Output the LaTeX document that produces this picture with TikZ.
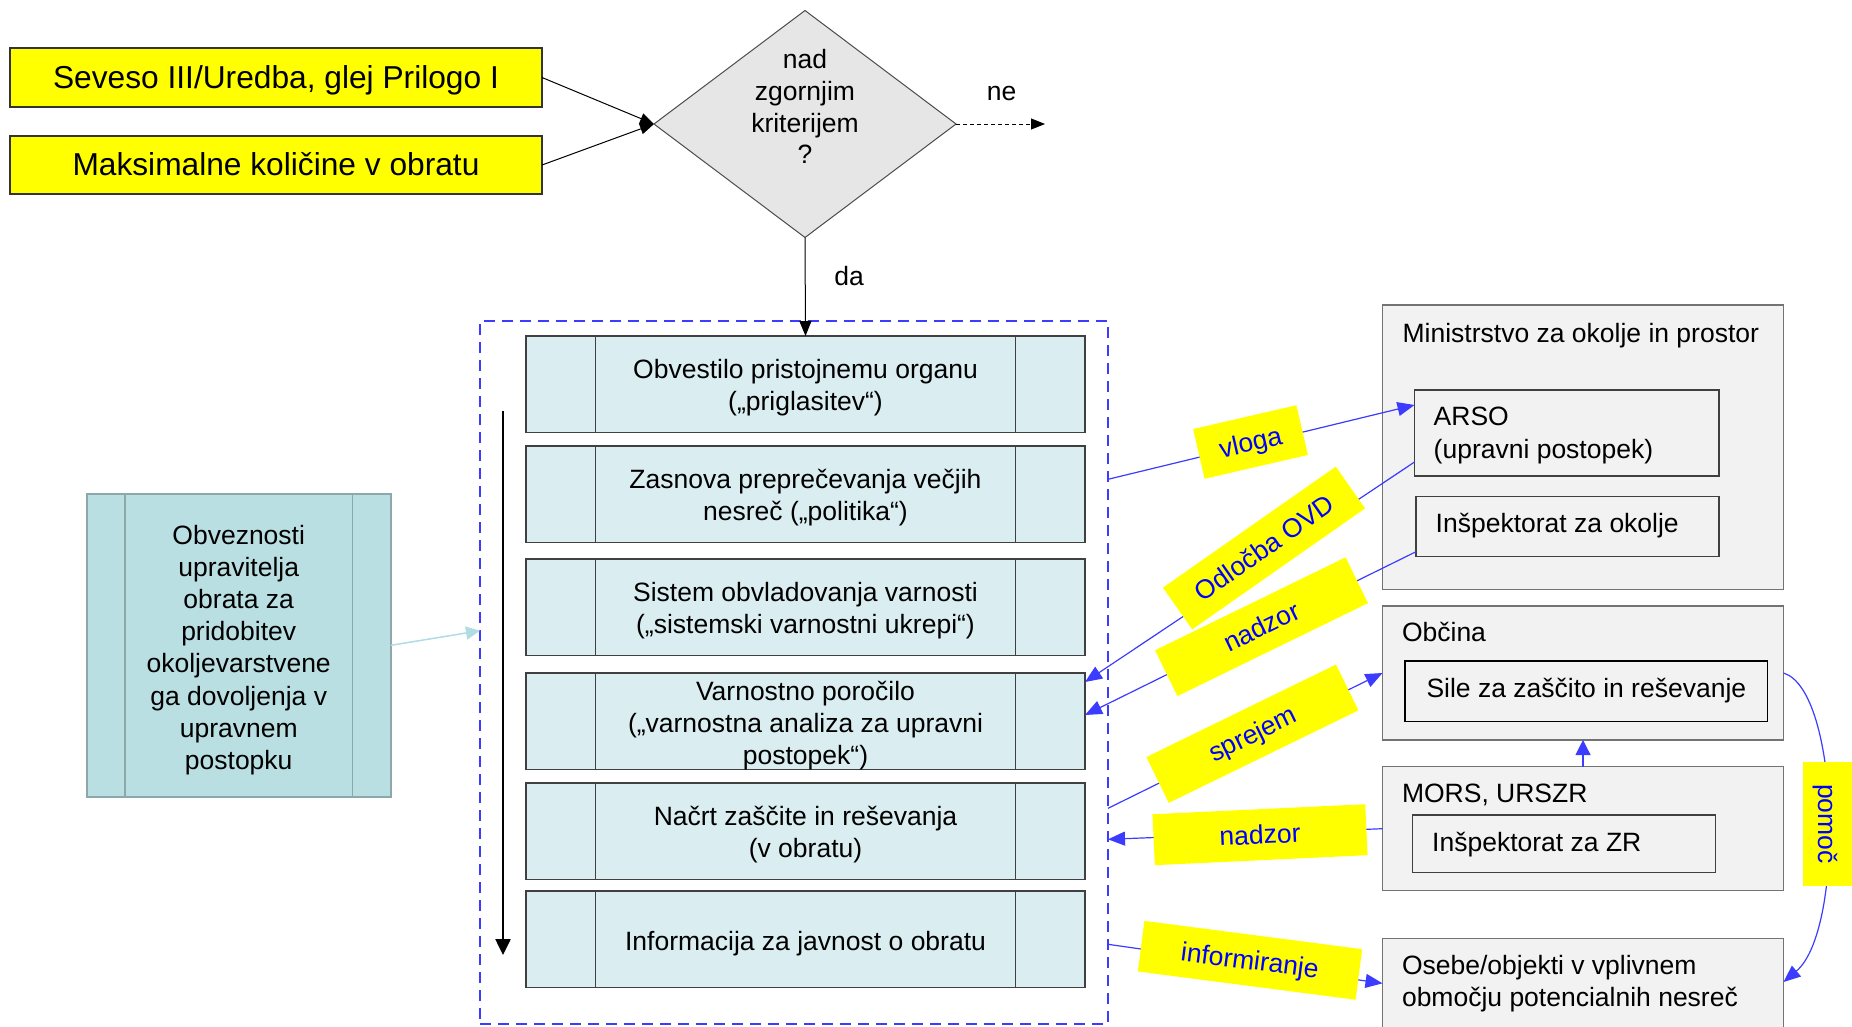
\documentclass[tikz,border=0pt]{standalone}
\usepackage{fontspec}
\setmainfont{Liberation Sans}
\usetikzlibrary{shapes.geometric,arrows.meta}
\definecolor{ylw}{RGB}{255,255,0}
\definecolor{diafill}{RGB}{230,230,230}
\definecolor{stepfill}{RGB}{218,238,241}
\definecolor{leftfill}{RGB}{185,223,227}
\definecolor{leftdraw}{RGB}{140,168,168}
\definecolor{greyfill}{RGB}{242,242,242}
\definecolor{greydraw}{RGB}{115,115,115}
\definecolor{lineblue}{RGB}{60,60,255}
\definecolor{txtblue}{RGB}{0,0,255}
\definecolor{cyanline}{RGB}{176,220,226}
\newcommand{\lnstrut}{\rule[-0.212em]{0pt}{1.117em}}
\begin{document}
\begin{tikzpicture}[x=1pt,y=-1pt,
  every node/.style={font=\fontsize{26.5}{31.8}\selectfont, inner sep=0pt, outer sep=0pt,
    execute at begin node=\lnstrut, execute at end node=\lnstrut},
  ybox/.style={draw=black!80, fill=ylw, line width=1.2pt, anchor=north west,
    font=\fontsize{31.7}{38}\selectfont},
  sidelines/.style={path picture={
    \draw[line width=1.2pt, draw=#1]
      ([xshift=\sideoff]path picture bounding box.north west) -- ([xshift=\sideoff]path picture bounding box.south west)
      ([xshift=-\sideoff]path picture bounding box.north east) -- ([xshift=-\sideoff]path picture bounding box.south east);}},
  stepbox/.style={draw=black!75, fill=stepfill, line width=1.2pt, minimum width=559pt,
    minimum height=96.5pt, anchor=north west, sidelines=black!75},
  steptext/.style={align=center},
  greybox/.style={draw=greydraw, fill=greyfill, line width=1.5pt, anchor=north west},
  innerbox/.style={draw=black!75, fill=greyfill, line width=1.3pt, anchor=north west},
  blk/.style={draw=black, line width=1pt, -{Triangle[length=14pt,width=11pt]}},
  bl/.style={draw=lineblue, line width=1.2pt, -{Triangle[length=17pt,width=14pt]}},
  lab/.style={fill=ylw, text=txtblue, minimum height=51pt, inner sep=0pt},
  txt/.style={anchor=west, align=left}
]
\def\sideoff{69.5pt}
\useasboundingbox (0,0) rectangle (1852,1026);
\clip (0,0) rectangle (1852,1026);
\fill[white] (0,0) rectangle (1852,1026);

% top inputs and decision
\node[ybox, minimum width=532pt, minimum height=59pt] (sev) at (10,48) {Seveso III/Uredba, glej Prilogo I};
\node[ybox, minimum width=532pt, minimum height=58pt] (max) at (10,136) {Maksimalne količine v obratu};
\node[draw=black!70, fill=diafill, diamond, line width=1pt, minimum width=302pt, minimum height=227pt] (dec) at (805,124) {};
\node[align=center] (dect) at (805,109.5) {nad\\zgornjim\\kriterijem\\?};
\draw[blk] (sev.east) -- (dec.west);
\draw[blk] (max.east) -- (dec.west);
\coordinate (neend) at (1045,124);
\draw[blk, dash pattern=on 4pt off 3pt] (dec.east) -- (neend);
\node (ne) at (1001.7,91.7) {ne};
\node (da) at (849,276) {da};

% dashed frame and steps
\node[draw=lineblue, line width=2.8pt, dash pattern=on 11pt off 7pt, minimum width=628pt,
  minimum height=703pt, anchor=north west] (frame) at (480,321) {};
\node[stepbox] (s1) at (526,336) {};
\node[stepbox] (s2) at (526,446) {};
\node[stepbox] (s3) at (526,559) {};
\node[stepbox] (s4) at (526,673) {};
\node[stepbox] (s5) at (526,783) {};
\node[stepbox] (s6) at (526,891) {};
\node[steptext] (s1t) at ([yshift=-3.5pt]s1.center) {Obvestilo pristojnemu organu\\(„priglasitev“)};
\node[steptext] (s2t) at ([yshift=-3.5pt]s2.center) {Zasnova preprečevanja večjih\\nesreč („politika“)};
\node[steptext] (s3t) at ([yshift=-3.5pt]s3.center) {Sistem obvladovanja varnosti\\(„sistemski varnostni ukrepi“)};
\node[steptext] (s4t) at ([yshift=-4.6pt]s4.center) {Varnostno poročilo\\(„varnostna analiza za upravni\\postopek“)};
\node[steptext] (s5t) at ([yshift=-3.5pt]s5.center) {Načrt zaščite in reševanja\\(v obratu)};
\node[steptext] (s6t) at ([yshift=-2.4pt]s6.center) {Informacija za javnost o obratu};
\draw[blk, -{Triangle[length=15pt,width=12pt]}] (dec.south) -- (s1.north);
\coordinate (va) at (503,411);
\coordinate (vb) at (503,955);
\draw[line width=2.5pt, -{Triangle[length=16pt,width=15pt]}] (va) -- (vb);

% left box
\begingroup
\def\sideoff{38.3pt}
\node[draw=leftdraw, fill=leftfill, line width=2pt, minimum width=304pt, minimum height=302.7pt,
  anchor=north west, sidelines=leftdraw] (obv) at (86.7,494) {};
\endgroup
\node[align=center, font=\fontsize{26.5}{32.2}\selectfont] (obvt) at ([yshift=-4.7pt]obv.center)
  {Obveznosti\\upravitelja\\obrata za\\pridobitev\\okoljevarstvene\\ga dovoljenja v\\upravnem\\postopku};
\draw[cyanline, line width=1.5pt, -{Triangle[length=14pt,width=13pt]}] (obv.east) -- ([yshift=41.8pt]frame.west);

% right boxes
\node[greybox, minimum width=401pt, minimum height=284.3pt] (min) at (1382.5,305) {};
\node[txt] (mint) at (1402.6,333) {Ministrstvo za okolje in prostor};
\node[innerbox, minimum width=304.4pt, minimum height=86pt] (arso) at (1414.5,390) {};
\node[txt, font=\fontsize{26.5}{33.3}\selectfont] (arsot) at (1433.7,435.7) {ARSO\\(upravni postopek)};
\node[innerbox, minimum width=303pt, minimum height=60pt] (insp) at (1416,496.7) {};
\node[txt] (inspt) at (1435.7,523.3) {Inšpektorat za okolje};

\node[greybox, minimum width=401pt, minimum height=134pt] (obc) at (1382.5,606) {};
\node[txt] (obct) at (1402,632.7) {Občina};
\node[innerbox, draw=black, minimum width=362.7pt, minimum height=60.3pt] (sile) at (1405,661) {};
\node (silet) at ([yshift=2.4pt]sile.center) {Sile za zaščito in reševanje};

\node[greybox, minimum width=401pt, minimum height=124pt] (mors) at (1382.5,766.7) {};
\node[txt] (morst) at (1402,793.3) {MORS, URSZR};
\node[innerbox, minimum width=303pt, minimum height=57.3pt] (izr) at (1412.5,815) {};
\node[txt] (izrt) at (1432.2,842.7) {Inšpektorat za ZR};

\node[greybox, minimum width=401pt, minimum height=120pt] (ose) at (1382.5,938.3) {};
\node[txt] (oset) at (1402,983.7) {Osebe/objekti v vplivnem\\območju potencialnih nesreč};

% blue connectors
\draw[bl] ([yshift=-158.3pt]frame.north east) -- ([yshift=-15pt]arso.north west);
\draw[bl] ([yshift=14pt]arso.south west) -- ([yshift=-9pt]s4.north east);
\draw[bl] ([yshift=5pt]insp.south west) -- ([yshift=-42pt]s4.north east);
\draw[bl] ([yshift=-135.8pt]frame.east) -- (obc.west);
\draw[bl] (mors.west) -- ([yshift=-166.8pt]frame.east);
\draw[bl] ([yshift=-271.8pt]frame.east) -- ([yshift=-45pt]ose.north west);
\draw[bl, -{Triangle[length=15pt,width=15pt]}] (mors.north) -- (obc.south);
\draw[bl] (obc.east) .. controls (1840,690) and (1845,930) .. ([yshift=-43.7pt]ose.north east);

% labels
\node[lab, minimum width=106pt, rotate=13] (lvloga) at (1250.5,442) {vloga};
\node[lab, minimum width=211pt, rotate=35] (lodl) at (1264,548) {Odločba OVD};
\node[lab, minimum width=212pt, rotate=26] (lnad1) at (1261.5,626.7) {nadzor};
\node[lab, minimum width=211pt, rotate=26] (lspr) at (1252.4,733.7) {sprejem};
\node[lab, minimum width=213pt, rotate=2.7] (lnad2) at (1260,834.7) {nadzor};
\node[lab, minimum width=219.6pt, rotate=-7.4] (linf) at (1250,960.3) {informiranje};
\node[lab, minimum width=124pt, minimum height=50pt, rotate=-90] (lpom) at (1828,824) {pomoč};
\end{tikzpicture}
\end{document}
